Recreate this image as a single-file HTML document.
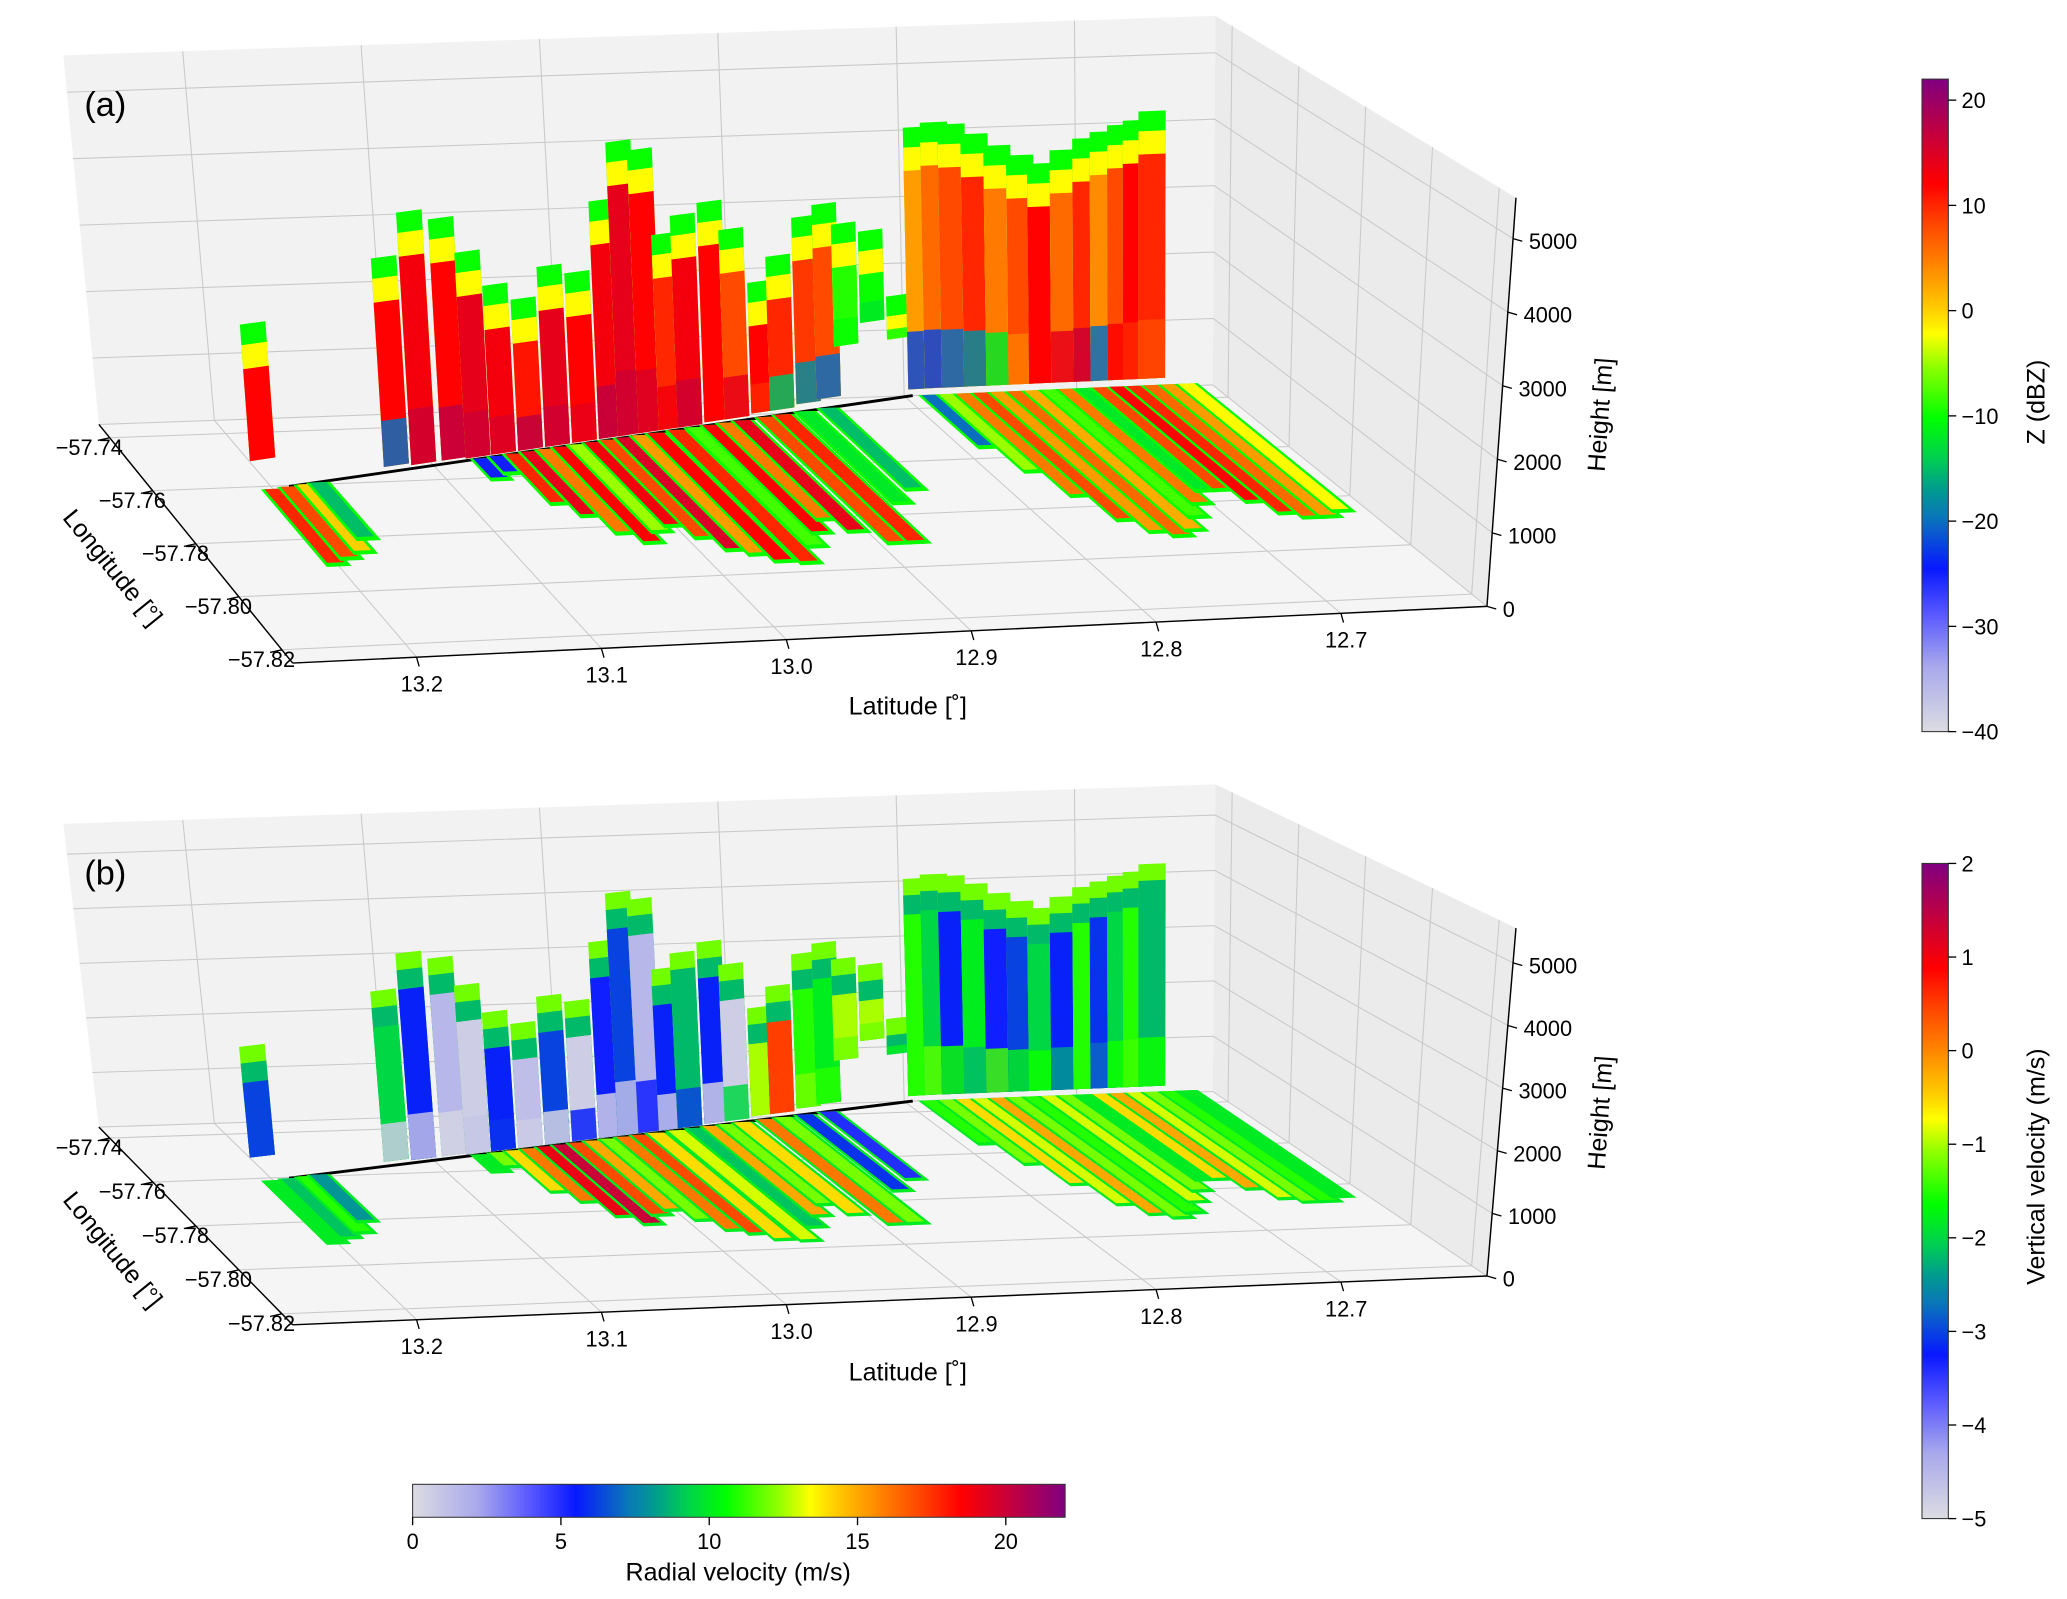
<!DOCTYPE html>
<html><head><meta charset="utf-8"><style>
html,body{margin:0;padding:0;background:#fff}
svg{display:block;font-family:"Liberation Sans",sans-serif}
</style></head><body>
<svg id="fig" width="2067" height="1599" viewBox="0 0 1568 1213" xmlns="http://www.w3.org/2000/svg">
<defs id="defs"></defs>
<g id="pa"></g>
<g id="pb"></g>
<g id="cbars"></g>
</svg>
<script>
// ---------- data ----------
const latTicks = [13.2, 13.1, 13.0, 12.9, 12.8, 12.7];
const latTickLabels = ["13.2","13.1","13.0","12.9","12.8","12.7"];
const lonTicks = [-57.74, -57.76, -57.78, -57.80, -57.82];
const lonTickLabels = ["\u221257.74","\u221257.76","\u221257.78","\u221257.80","\u221257.82"];
const hTicks = [0,1000,2000,3000,4000,5000];
const hTickLabels = ["0","1000","2000","3000","4000","5000"];
const zTicks = [20,10,0,-10,-20,-30,-40];
const wTicks = [2,1,0,-1,-2,-3,-4,-5];
const rTicks = [0,5,10,15,20];

const trackLat = [13.215, 12.795, 12.62];
const trackLon = [-57.762, -57.735, -57.734];

const colLat  = [13.205,13.123,13.106,13.087,13.072,13.056,13.039,13.022,13.005,12.988,12.976,12.963,12.950,12.938,12.921,12.908,12.891,12.879,12.862,12.849,12.837,12.820,12.803,12.790,12.780,12.770,12.757,12.744,12.731,12.719,12.706,12.693,12.683,12.673,12.664,12.655];
const colTop  = [2440,3140,3760,3600,3060,2520,2260,2690,2540,3550,4390,4230,2930,3180,3320,2870,2030,2380,2910,3060,2730,2570,1540,4040,4100,4060,3900,3710,3550,3410,3600,3760,3850,3940,4000,4130];
const colBase = [450,80,50,50,30,30,30,30,30,30,30,30,30,30,50,50,80,80,120,150,900,1200,900,100,100,100,100,100,100,100,100,100,100,100,100,100];
const colCoreZ = [12,12,13,12,14,13,11,14,12,13,14,12,10,13,12,8,12,10,9,8,-9,-10,-8,3,6,8,10,5,8,12,6,10,4,8,12,10];
const colLowZ  = [12,-20,16,17,16,15,17,16,14,17,16,15,13,16,12,14,10,-15,-18,-20,-10,-12,-10,-22,-22,-20,-18,-12,5,12,14,16,-20,12,10,8];
const colCoreW = [-3,-2,-3.2,-4.5,-4.8,-3.2,-4.6,-3.0,-4.8,-3.3,-3.0,-4.5,-3.2,-2.2,-3.2,-4.8,-1.0,0.5,-1.5,-1.8,-1.0,-1.0,-2.0,-1.5,-2.0,-3.2,-1.8,-3.3,-3.0,-2.0,-3.2,-1.5,-3.1,-2.0,-1.5,-2.2];
const colLowW  = [-3,-4.8,-4.6,-4.9,-4.7,-3.1,-4.8,-4.9,-3.2,-4.8,-4.6,-3.3,-4.7,-3.0,-4.8,-2.0,-1.0,0.5,-1.2,-1.5,-1.2,-1.2,-1.8,-1.5,-1.3,-1.6,-2.2,-1.4,-1.8,-1.6,-2.4,-1.5,-2.8,-1.6,-1.4,-1.6];

const strLat = [13.200,13.190,13.180,13.172,13.070,13.060,13.050,13.040,13.030,13.020,13.010,13.000,12.990,12.980,12.970,12.960,12.947,12.935,12.925,12.915,12.905,12.890,12.879,12.865,12.850,12.785,12.775,12.765,12.755,12.745,12.735,12.725,12.715,12.705,12.695,12.685,12.675,12.665,12.655,12.645,12.635];
const strEnd = [-57.789,-57.787,-57.785,-57.780,-57.760,-57.758,-57.770,-57.775,-57.782,-57.786,-57.782,-57.780,-57.785,-57.790,-57.792,-57.795,-57.796,-57.790,-57.785,-57.780,-57.785,-57.790,-57.790,-57.775,-57.770,-57.755,-57.765,-57.775,-57.785,-57.790,-57.792,-57.790,-57.785,-57.780,-57.775,-57.775,-57.780,-57.785,-57.787,-57.787,-57.785];
const strZ = [10,8,0,-15,-25,-25,10,14,5,12,-5,13,8,15,3,12,10,-8,12,5,14,8,10,-12,-15,-20,-5,5,8,3,6,2,-8,5,-12,8,12,10,6,3,-2];
const strR = [10,9,11,8,10,12,14,16,19,20,17,15,12,16,17,14,13,9,15,12,14,16,12,6,5,11,12,14,13,15,12,11,13,12,10,14,15,13,12,11,10];

// ---------- colormap ----------
const cmStops = [[0,"#dcdce2"],[0.1,"#a8a8ec"],[0.18,"#5858ff"],[0.25,"#0818ff"],[0.33,"#0a78b8"],[0.37,"#009a90"],[0.42,"#00d050"],[0.48,"#00ff00"],[0.56,"#90ff00"],[0.61,"#ffff00"],[0.645,"#ffd000"],[0.72,"#ff8000"],[0.78,"#ff4400"],[0.84,"#ff0000"],[0.9,"#d00030"],[1,"#800080"]];
function hx(c){return [parseInt(c.substr(1,2),16),parseInt(c.substr(3,2),16),parseInt(c.substr(5,2),16)];}
function cmap(t){
  t=Math.max(0,Math.min(1,t));
  for(let i=1;i<cmStops.length;i++){
    if(t<=cmStops[i][0]){
      const a=cmStops[i-1],b=cmStops[i];const f=(t-a[0])/(b[0]-a[0]);
      const ca=hx(a[1]),cb=hx(b[1]);
      return "rgb("+ca.map((v,k)=>Math.round(v+(cb[k]-v)*f)).join(",")+")";
    }
  }
  return cmStops[cmStops.length-1][1];
}
const colZ=z=>cmap((z+40)/62), colW=w=>cmap((w+5)/7), colR=r=>cmap(r/22);

// ---------- projection ----------
const PANELS = {
 a:{BL:[75,322],BR:[920,292],FR:[1128,460],FL:[222,503],TBL:[48,42],TBR:[922,12],TFR:[1150,150],TFL:[205,193],lab:"(a)"},
 b:{BL:[75,855],BR:[920,828],FR:[1128,968],FL:[222,1005],TBL:[48,625],TBR:[922,595],TFR:[1150,704],TFL:[200,762],lab:"(b)"}
};
const LAT0=13.267, LATSPAN=0.646, LON0=-57.735, LONSPAN=0.09, HMAX=5556;
function lerp(a,b,t){return [a[0]+(b[0]-a[0])*t,a[1]+(b[1]-a[1])*t];}
function proj(P,lat,lon,h){
  const u=(LAT0-lat)/LATSPAN, v=(LON0-lon)/LONSPAN, w=h/HMAX;
  const bot=lerp(lerp(P.BL,P.BR,u),lerp(P.FL,P.FR,u),v);
  const top=lerp(lerp(P.TBL,P.TBR,u),lerp(P.TFL,P.TFR,u),v);
  return lerp(bot,top,w);
}
function trackLonAt(lat){
  for(let i=1;i<trackLat.length;i++){
    if(lat>=trackLat[i]||i==trackLat.length-1){
      const f=(lat-trackLat[i-1])/(trackLat[i]-trackLat[i-1]);
      return trackLon[i-1]+(trackLon[i]-trackLon[i-1])*f;
    }
  }
}
const NS="http://www.w3.org/2000/svg";
function el(tag,attrs,parent){const e=document.createElementNS(NS,tag);for(const k in attrs)e.setAttribute(k,attrs[k]);parent.appendChild(e);return e;}
function pts(a){return a.map(p=>p[0].toFixed(1)+","+p[1].toFixed(1)).join(" ");}
function txt(parent,x,y,s,size,anchor,rot){
  const t=el("text",{x:x,y:y,"font-size":size,"text-anchor":anchor||"start",fill:"#000"},parent);
  if(rot!==undefined)t.setAttribute("transform","rotate("+rot+" "+x+" "+y+")");
  t.textContent=s;return t;
}
const LATMIN=LAT0-LATSPAN, LONMIN=LON0-LONSPAN;

function drawPanel(g,P,key){
  let e;
  e=el("polygon",{points:pts([P.BL,P.BR,P.TBR,P.TBL]),fill:"#f2f2f2"},g);
  
  e=el("polygon",{points:pts([P.BR,P.FR,P.TFR,P.TBR]),fill:"#ebebeb"},g);
  
  e=el("polygon",{points:pts([P.BL,P.BR,P.FR,P.FL]),fill:"#f5f5f5"},g);
  
  const grid=el("g",{stroke:"#c9c9c9","stroke-width":0.8,fill:"none"},g);
  
  latTicks.forEach(l=>{
    el("polyline",{points:pts([proj(P,l,LON0,HMAX),proj(P,l,LON0,0),proj(P,l,LONMIN,0)])},grid);
  });
  hTicks.forEach(h=>{
    el("polyline",{points:pts([proj(P,LAT0,LON0,h),proj(P,LATMIN,LON0,h),proj(P,LATMIN,LONMIN,h)])},grid);
  });
  lonTicks.forEach(l=>{
    el("polyline",{points:pts([proj(P,LAT0,l,0),proj(P,LATMIN,l,0),proj(P,LATMIN,l,HMAX)])},grid);
  });
  const ax=el("g",{stroke:"#000","stroke-width":1.1,fill:"none"},g);
  
  el("line",{x1:P.BL[0],y1:P.BL[1],x2:P.FL[0],y2:P.FL[1]},ax);
  el("line",{x1:P.FL[0],y1:P.FL[1],x2:P.FR[0],y2:P.FR[1]},ax);
  el("line",{x1:P.FR[0],y1:P.FR[1],x2:P.TFR[0],y2:P.TFR[1]},ax);
  const tl=el("g",{},g);
  latTicks.forEach((l,i)=>{
    const p=proj(P,l,LONMIN,0);
    el("line",{x1:p[0],y1:p[1],x2:p[0]+2,y2:p[1]+7,stroke:"#000","stroke-width":1},tl);
    txt(tl,p[0]+4,p[1]+26,latTickLabels[i],16.5,"middle");
  });
  lonTicks.forEach((l,i)=>{
    const p=proj(P,LAT0,l,0);
    el("line",{x1:p[0],y1:p[1],x2:p[0]-9,y2:p[1]+2,stroke:"#000","stroke-width":1},tl);
    txt(tl,p[0]+10,p[1]+13,lonTickLabels[i],16.5,"end");
  });
  hTicks.forEach((h,i)=>{
    const p=proj(P,LATMIN,LONMIN,h);
    el("line",{x1:p[0],y1:p[1],x2:p[0]+7,y2:p[1]+2,stroke:"#000","stroke-width":1},tl);
    txt(tl,p[0]+12,p[1]+8,hTickLabels[i],16.5,"start");
  });
  const fl=P.FL, bl=P.BL;
  let t=txt(g,(fl[0]+bl[0])/2-68,(fl[1]+bl[1])/2+22,"Longitude [\u00b0]",19,"middle",51);
  
  const lp=proj(P,12.92,LONMIN,0);
  t=txt(g,lp[0]-20,lp[1]+62,"Latitude [\u02da]",19,"middle");
  
  const hp=proj(P,LATMIN,LONMIN,2600);
  t=txt(g,hp[0]+82,hp[1],"Height [m]",19,"middle",-86);
  
  t=txt(g,P.TBL[0]+16,P.TBL[1]+46,P.lab,26,"start");
  

  const a=proj(P,13.19,trackLonAt(13.19),0), b=proj(P,12.795,trackLonAt(12.795),0);
  e=el("line",{x1:a[0],y1:a[1],x2:b[0],y2:b[1],stroke:"#000","stroke-width":2.2},g);
  

  const cg=el("g",{},g);
  const hw=0.0078;
  colLat.forEach((lat,i)=>{
    const l1=lat+hw,l2=lat-hw,o1=trackLonAt(l1),o2=trackLonAt(l2);
    const q=(h0,h1)=>[proj(P,l1,o1,h0),proj(P,l2,o2,h0),proj(P,l2,o2,h1),proj(P,l1,o1,h1)];
    const top=colTop[i],base=colBase[i];
    const rim = key=="a"?colZ(-10):colW(-1.2);
    const mid = key=="a"?colZ(-2):colW(-2.2);
    const core= key=="a"?colZ(colCoreZ[i]):colW(colCoreW[i]);
    const low = key=="a"?colZ(colLowZ[i]):colW(colLowW[i]);
    let p=el("polygon",{points:pts(q(base,top)),fill:rim},cg);
    
    p=el("polygon",{points:pts(q(base,top-300)),fill:mid},cg);
    
    p=el("polygon",{points:pts(q(base,top-650)),fill:core},cg);
    
    p=el("polygon",{points:pts(q(base,base+(top-base)*0.22)),fill:low,opacity:0.85},cg);
    
  });
  const sg=el("g",{},g);
  strLat.forEach((lat,i)=>{
    const o=trackLonAt(lat), end=strEnd[i];
    const rimC = key=="a"?colZ(-10):colR(10);
    const coreC= key=="a"?colZ(strZ[i]):colR(strR[i]);
    const rw=0.0068, cw=0.0048;
    let p=el("polygon",{points:pts([proj(P,lat+rw,o,0),proj(P,lat-rw,o,0),proj(P,lat-rw,end-0.0015,0),proj(P,lat+rw,end-0.0015,0)]),fill:rimC},sg);
    
    p=el("polygon",{points:pts([proj(P,lat+cw,o,0),proj(P,lat-cw,o,0),proj(P,lat-cw,end,0),proj(P,lat+cw,end,0)]),fill:coreC},sg);
    
  });
}
drawPanel(document.getElementById("pa"),PANELS.a,"a");
drawPanel(document.getElementById("pb"),PANELS.b,"b");

const defs=document.getElementById("defs");
function grad(id,vertical){
  const g=el("linearGradient",vertical?{id:id,x1:0,y1:1,x2:0,y2:0}:{id:id,x1:0,y1:0,x2:1,y2:0},defs);
  cmStops.forEach(s=>el("stop",{offset:s[0],"stop-color":s[1]},g));
}
grad("gv",true);grad("gh",false);
const cb=document.getElementById("cbars");
function vbar(name,y0,h,vmin,vmax,ticks,title,ty){
  const g=el("g",{},cb);
  el("rect",{x:1458,y:y0,width:20,height:h,fill:"url(#gv)",stroke:"#333","stroke-width":0.8},g);
  ticks.forEach(v=>{
    const y=y0+h*(vmax-v)/(vmax-vmin);
    el("line",{x1:1478,y1:y,x2:1484,y2:y,stroke:"#000","stroke-width":1},g);
    txt(g,1488,y+6,v<0?"\u2212"+(-v):String(v),16.5,"start");
  });
  txt(g,1551,ty,title,19,"middle",-90);
}
vbar("colorbar-reflectivity",60,495,-40,22,zTicks,"Z (dBZ)",305);
vbar("colorbar-vertical-velocity",655,497,-5,2,wTicks,"Vertical velocity (m/s)",885);
(function(){
  const g=el("g",{},cb);
  el("rect",{x:313,y:1126,width:495,height:25,fill:"url(#gh)",stroke:"#333","stroke-width":0.8},g);
  rTicks.forEach(v=>{
    const x=313+495*v/22;
    el("line",{x1:x,y1:1151,x2:x,y2:1157,stroke:"#000","stroke-width":1},g);
    txt(g,x,1175,String(v),16.5,"middle");
  });
  txt(g,560,1199,"Radial velocity (m/s)",19,"middle");
})();
</script>
</body></html>
